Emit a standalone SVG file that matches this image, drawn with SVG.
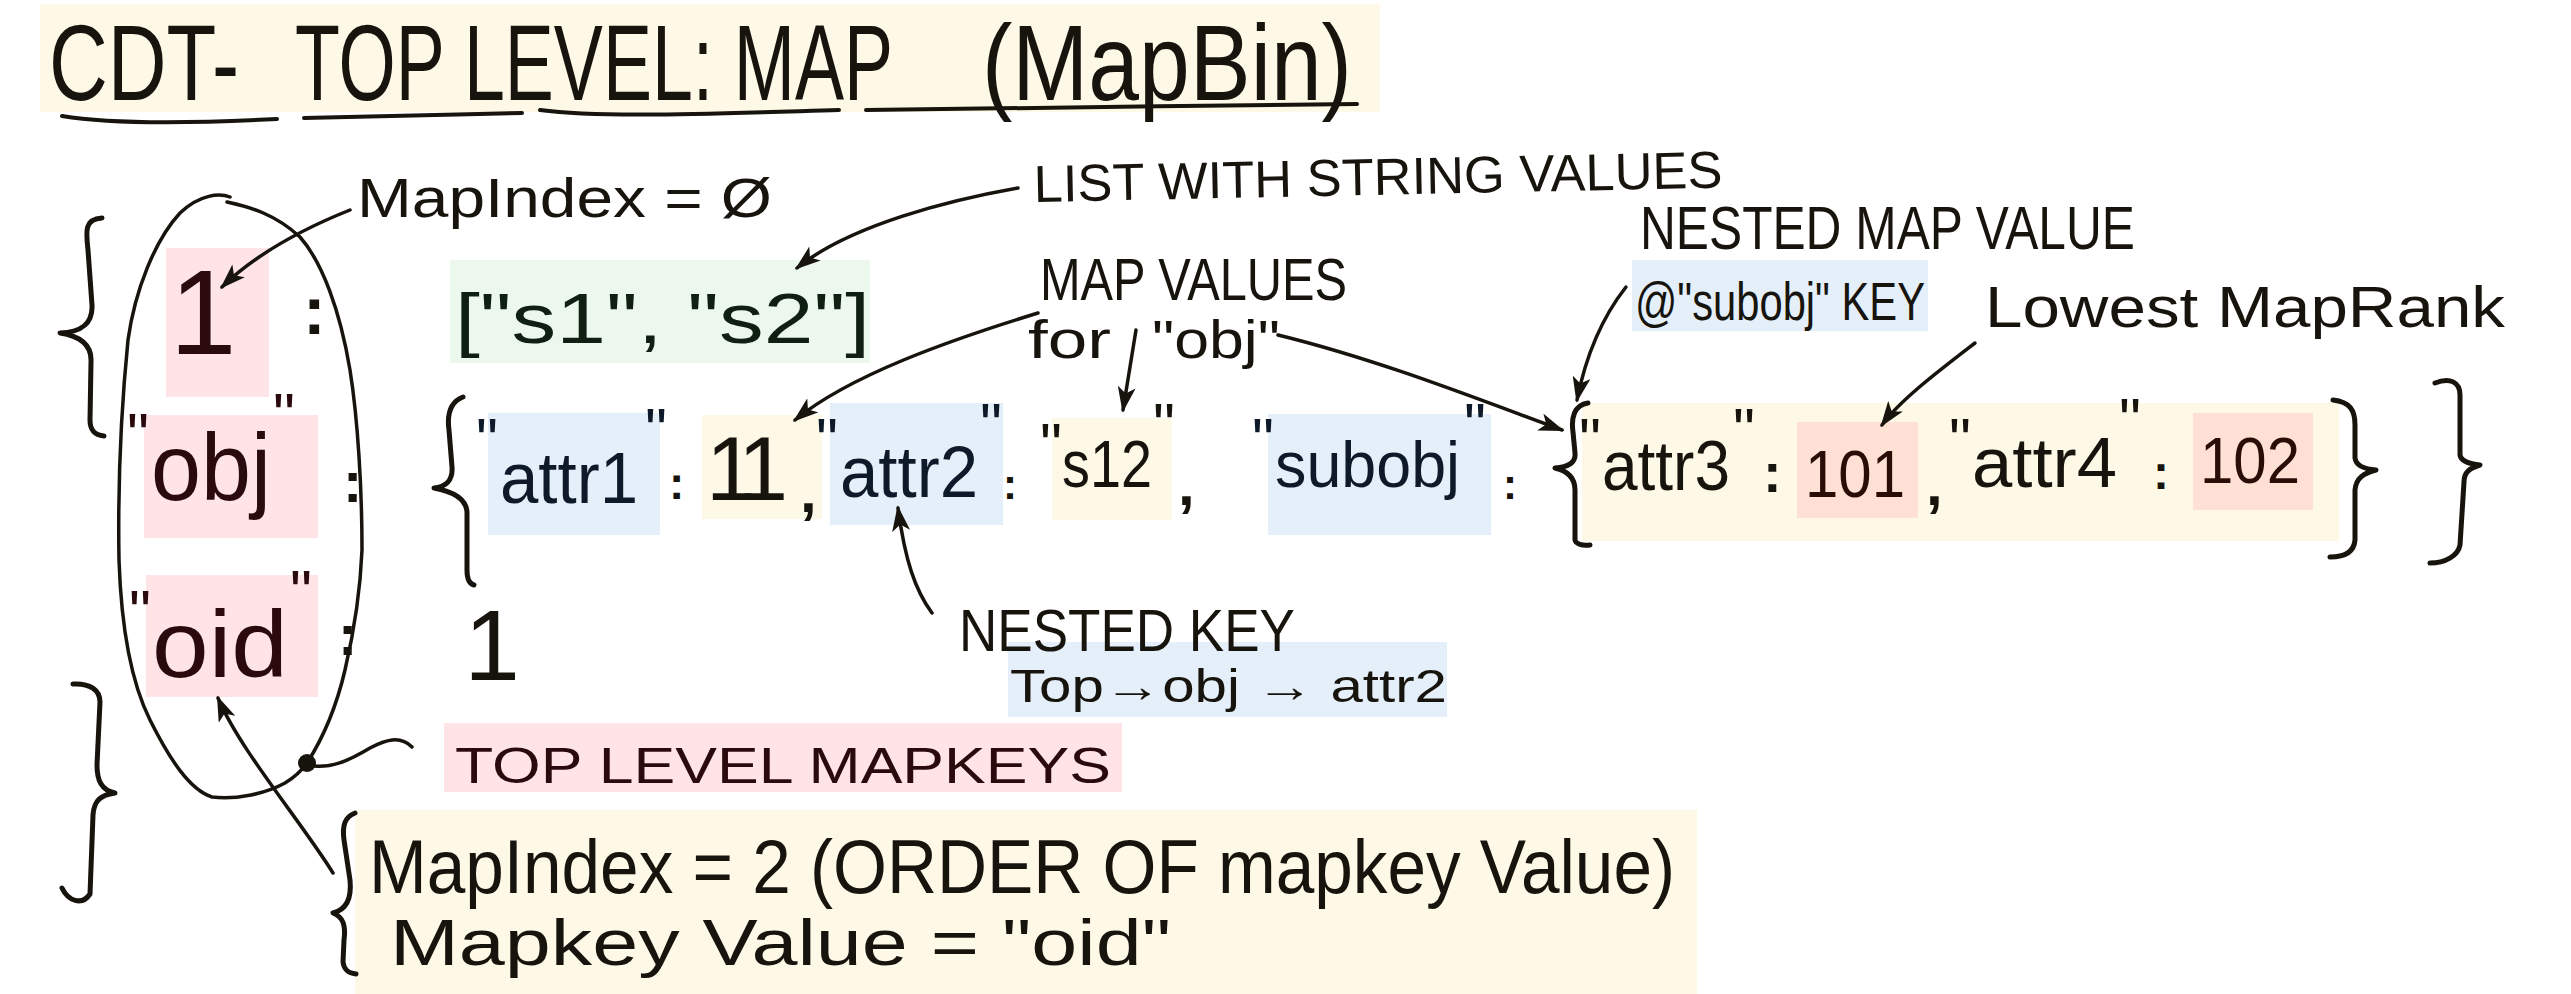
<svg xmlns="http://www.w3.org/2000/svg" width="2571" height="994" viewBox="0 0 2571 994">
<style>
text{font-family:"Liberation Sans Narrow","Liberation Sans",Arial,sans-serif;fill:#17130d;}
.ink{fill:none;stroke:#17130d;stroke-linecap:round;stroke-linejoin:round;}
.br{stroke-width:5;}
.cn{stroke-width:3.5;}
.pink{fill:#fee4e7;}
.blue{fill:#e4eff9;}
.cream{fill:#fef8e7;}
.green{fill:#ecf8ee;}
.salmon{fill:#fee0d5;}
.q{font-size:62px;}
.pk{fill:#2a0a0c;}
.nv{fill:#0e1a29;}
.b{font-weight:bold;}
</style>
<defs>
<marker id="ah" viewBox="0 0 20 14" refX="18" refY="7" markerWidth="26" markerHeight="18" markerUnits="userSpaceOnUse" orient="auto">
<path d="M0,0 L20,7 L0,14 L5,7 z" fill="#17130d"/>
</marker>
</defs>
<rect width="2571" height="994" fill="#ffffff"/>

<g id="title">
<rect class="cream" x="40" y="4" width="1340" height="108"/>
<text font-size="108"><tspan x="49" y="100" textLength="190" lengthAdjust="spacingAndGlyphs">CDT-</tspan><tspan x="295" y="100" textLength="598" lengthAdjust="spacingAndGlyphs">TOP LEVEL: MAP</tspan><tspan x="982" y="100" textLength="370" lengthAdjust="spacingAndGlyphs">(MapBin)</tspan></text>
<path class="ink" stroke-width="4" d="M62 116 C110 124 180 124 277 119 M304 118 C380 116 450 115 522 113 M540 110 C600 118 700 114 839 110 M866 110 C1000 108 1200 106 1357 104"/>
</g>

<g id="outer-braces">
<path class="ink br" d="M102 218 C84 219 86 232 88 250 L92 305 C93 325 80 332 60 333 C80 336 92 345 91 362 L90 420 C90 431 95 435 104 436"/>
<path class="ink br" d="M62 888 C68 901 82 906 90 894 L93 815 C94 800 101 795 115 793 C101 790 97 780 97 765 L100 702 C100 690 90 683 73 684"/>
</g>

<g id="keys-ellipse">
<path class="ink" stroke-width="3.5" d="M230 197 C220 193 200 194 180 213 C155 240 135 290 128 340 C120 420 118 500 119 560 C121 620 130 680 150 720 C170 760 190 790 212 797 C235 800 265 794 285 783 C295 777 302 770 307 763"/>
<path class="ink" stroke-width="3.5" d="M227 202 C250 207 275 214 300 237 C322 262 340 310 350 370 C358 420 362 490 362 550 C360 600 352 640 345 670 C338 700 325 735 307 763"/>
<circle cx="307" cy="763" r="9" fill="#17130d"/>
<path class="ink" stroke-width="3.5" d="M307 765 C330 770 350 760 370 748 C385 740 400 735 412 747"/>
</g>

<g id="key-1">
<rect class="pink" x="166" y="248" width="103" height="149"/>
<text font-size="120"><tspan class="pk" x="203" y="354" text-anchor="middle">1</tspan><tspan class="b" x="303" y="334" font-size="68">:</tspan></text>
</g>

<g id="key-obj">
<rect class="pink" x="144" y="415" width="174" height="123"/>
<text font-size="95"><tspan class="q pk" x="127" y="456">"</tspan><tspan class="pk" x="151" y="500" textLength="120" lengthAdjust="spacingAndGlyphs">obj</tspan><tspan class="q pk" x="273" y="436">"</tspan><tspan class="b" x="343" y="502" font-size="58">:</tspan></text>
</g>

<g id="key-oid">
<rect class="pink" x="146" y="575" width="172" height="122"/>
<text font-size="95"><tspan class="q pk" x="129" y="633">"</tspan><tspan class="pk" x="152" y="677" textLength="136" lengthAdjust="spacingAndGlyphs">oid</tspan><tspan class="q pk" x="290" y="613">"</tspan><tspan class="b" x="338" y="655" font-size="58">:</tspan></text>
</g>

<g id="value-list">
<rect class="green" x="450" y="260" width="420" height="103"/>
<text font-size="70" x="455" y="343" textLength="415" lengthAdjust="spacingAndGlyphs" style="fill:#0f1f12">["s1", "s2"]</text>
</g>

<g id="value-obj">
<path class="ink br" d="M463 397 C450 402 447 415 449 430 L452 467 C453 480 446 487 434 488 C450 491 466 497 467 512 L467 570 C467 580 470 584 474 585"/>
<rect class="blue" x="488" y="413" width="172" height="122"/>
<rect class="cream" x="702" y="415" width="120" height="104"/>
<rect class="blue" x="830" y="403" width="173" height="122"/>
<rect class="cream" x="1052" y="418" width="120" height="102"/>
<rect class="blue" x="1268" y="414" width="223" height="121"/>
<text font-size="72"><tspan class="q nv" x="476" y="461">"</tspan><tspan class="nv" x="500" y="503" textLength="138" lengthAdjust="spacingAndGlyphs">attr1</tspan><tspan class="q nv" x="645" y="451">"</tspan><tspan class="b" x="669" y="499" font-size="46">:</tspan><tspan x="706 738" y="500" font-size="90">11</tspan><tspan class="b" x="800" y="512" font-size="60">,</tspan><tspan class="q nv" x="816" y="461">"</tspan><tspan class="nv" x="840" y="497" textLength="138" lengthAdjust="spacingAndGlyphs">attr2</tspan><tspan class="q nv" x="980" y="446">"</tspan><tspan class="b" x="1003" y="499" font-size="42">:</tspan><tspan class="q" x="1040" y="466">"</tspan><tspan x="1062" y="487" font-size="66" textLength="90" lengthAdjust="spacingAndGlyphs">s12</tspan><tspan class="q" x="1153" y="446">"</tspan><tspan class="b" x="1178" y="505" font-size="60">,</tspan><tspan class="q nv" x="1252" y="461">"</tspan><tspan class="nv" x="1275" y="487" font-size="64" textLength="185" lengthAdjust="spacingAndGlyphs">subobj</tspan><tspan class="q nv" x="1464" y="446">"</tspan><tspan class="b" x="1503" y="499" font-size="42">:</tspan></text>
</g>

<g id="value-nested">
<rect class="cream" x="1582" y="403" width="757" height="138"/>
<rect class="salmon" x="1797" y="422" width="121" height="96"/>
<rect class="salmon" x="2193" y="413" width="120" height="97"/>
<path class="ink br" d="M1588 403 C1574 405 1571 418 1573 432 L1575 453 C1576 463 1568 467 1555 468 C1568 471 1575 478 1575 490 L1575 540 C1576 544 1582 546 1590 545"/>
<text font-size="70"><tspan class="q" x="1579" y="461">"</tspan><tspan x="1602" y="490" textLength="128" lengthAdjust="spacingAndGlyphs">attr3</tspan><tspan class="q" x="1733" y="451">"</tspan><tspan class="b" x="1763" y="492" font-size="56">:</tspan><tspan x="1805" y="497" font-size="66" textLength="100" lengthAdjust="spacingAndGlyphs" style="fill:#2a0d06">101</tspan><tspan class="b" x="1926" y="505" font-size="60">,</tspan><tspan class="q" x="1949" y="461">"</tspan><tspan x="1972" y="487" textLength="145" lengthAdjust="spacingAndGlyphs">attr4</tspan><tspan class="q" x="2119" y="441">"</tspan><tspan class="b" x="2153" y="489" font-size="48">:</tspan><tspan x="2200" y="483" font-size="64" textLength="100" lengthAdjust="spacingAndGlyphs" style="fill:#2a0d06">102</tspan></text>
<path class="ink br" d="M2333 400 C2350 402 2355 410 2355 425 L2355 458 C2356 466 2364 469 2376 470 C2364 473 2356 478 2355 490 L2355 540 C2354 552 2345 557 2330 557"/>
<path class="ink br" d="M2435 383 C2450 377 2460 382 2460 395 L2460 455 C2461 461 2470 464 2480 465 C2470 468 2464 472 2464 482 L2460 545 C2458 556 2445 563 2430 563"/>
</g>

<g id="value-oid">
<text font-size="100" x="492" y="680" text-anchor="middle">1</text>
</g>

<g id="note-mapindex0">
<text font-size="56" x="357" y="217" textLength="415" lengthAdjust="spacingAndGlyphs">MapIndex = Ø</text>
</g>

<g id="note-list">
<text font-size="52" x="1034" y="202" textLength="689" lengthAdjust="spacingAndGlyphs" transform="rotate(-1.2 1034 202)">LIST WITH STRING VALUES</text>
</g>

<g id="note-mapvalues">
<text font-size="60"><tspan x="1040" y="300" textLength="307" lengthAdjust="spacingAndGlyphs">MAP VALUES</tspan><tspan x="1028" y="358" font-size="54" textLength="83" lengthAdjust="spacingAndGlyphs">for</tspan><tspan x="1152" y="358" font-size="54" textLength="128" lengthAdjust="spacingAndGlyphs">"obj"</tspan></text>
</g>

<g id="note-nestedmap">
<rect class="blue" x="1632" y="260" width="296" height="71"/>
<text font-size="62"><tspan x="1640" y="249" textLength="495" lengthAdjust="spacingAndGlyphs">NESTED MAP VALUE</tspan><tspan x="1635" y="320" font-size="54" textLength="290" lengthAdjust="spacingAndGlyphs">@"subobj" KEY</tspan></text>
</g>

<g id="note-lowest">
<text font-size="58" x="1985" y="327" textLength="520" lengthAdjust="spacingAndGlyphs">Lowest MapRank</text>
</g>

<g id="note-nestedkey">
<rect class="blue" x="1008" y="642" width="439" height="75"/>
<text font-size="60"><tspan x="959" y="651" textLength="336" lengthAdjust="spacingAndGlyphs">NESTED KEY</tspan><tspan x="1010" y="702" font-size="46" textLength="437" lengthAdjust="spacingAndGlyphs">Top→obj → attr2</tspan></text>
</g>

<g id="note-toplevel">
<rect class="pink" x="444" y="723" width="678" height="69"/>
<text font-size="50" x="455" y="783" textLength="656" lengthAdjust="spacingAndGlyphs" style="fill:#2a0a0c">TOP LEVEL MAPKEYS</text>
</g>

<g id="note-mapindex2">
<rect class="cream" x="355" y="810" width="1342" height="184"/>
<path class="ink br" d="M355 813 C345 817 342 825 344 840 L350 880 C352 900 345 910 333 913 C343 917 346 925 344 940 L343 962 C344 970 348 973 356 974"/>
<text font-size="76"><tspan x="369" y="893" textLength="1306" lengthAdjust="spacingAndGlyphs">MapIndex = 2  (ORDER OF mapkey Value)</tspan><tspan x="390" y="965" font-size="64" textLength="781" lengthAdjust="spacingAndGlyphs">Mapkey Value = "oid"</tspan></text>
</g>

<g id="connectors" class="ink cn" marker-end="url(#ah)">
<path d="M350 210 C300 230 255 255 222 287"/>
<path d="M1018 188 C950 200 850 225 797 268"/>
<path d="M1038 313 C950 340 850 375 795 420"/>
<path d="M1136 330 L1123 410"/>
<path d="M1278 335 C1380 360 1480 400 1562 430"/>
<path d="M1626 287 C1600 320 1585 360 1577 400"/>
<path d="M1975 343 C1940 370 1900 400 1882 425"/>
<path d="M932 613 C915 590 905 560 898 508"/>
<path d="M333 873 C300 820 240 750 218 698"/>
</g>
</svg>
